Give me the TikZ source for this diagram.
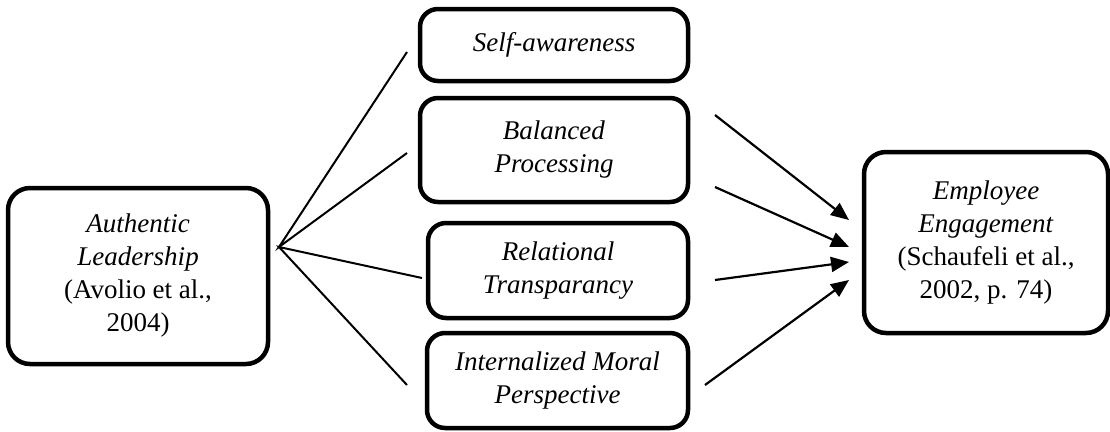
\documentclass[tikz,border=0pt]{standalone}
\usepackage{fontspec}
\setmainfont{Liberation Serif}
\usetikzlibrary{arrows.meta}
\begin{document}
\begin{tikzpicture}[x=1pt,y=-1pt,
  boxnode/.style={draw=black,line width=4.5pt,rounded corners=18pt,inner sep=0pt,align=center,
    font=\fontsize{27}{33}\selectfont},
  fanline/.style={line width=2pt},
  arrowline/.style={line width=2.2pt,-{Triangle[length=18pt,width=15pt]}}]
\useasboundingbox (0,0) rectangle (1110,431);
\node[boxnode,minimum width=260pt,minimum height=176pt,rounded corners=22pt] (al) at (138,276)
  {\textit{Authentic}\\\textit{Leadership}\\(Avolio et al.,\\2004)};
\node[boxnode,minimum width=268pt,minimum height=72pt] (sa) at (554,45) {\textit{Self-awareness}};
\node[boxnode,minimum width=268pt,minimum height=104pt] (bp) at (554,150) {\textit{Balanced}\\\textit{Processing}};
\node[boxnode,minimum width=260pt,minimum height=95pt] (rt) at (558,270.5) {\textit{Relational}\\\textit{Transparancy}};
\node[boxnode,minimum width=261pt,minimum height=95pt] (imp) at (557.5,380.5) {\textit{Internalized Moral}\\\textit{Perspective}};
\node[boxnode,minimum width=244pt,minimum height=181pt,rounded corners=22pt] (ee) at (986,242.5)
  {\textit{Employee}\\\textit{Engagement}\\(Schaufeli et al.,\\2002, p. 74)};
% fan
\coordinate (hub) at (279,247);
\coordinate (f1) at (407,52);
\coordinate (f2) at (407,153);
\coordinate (f3) at (422,278);
\coordinate (f4) at (407,385);
\draw[fanline] (f1) -- (hub) -- (f2);
\draw[fanline] (f3) -- (hub) -- (f4);
% arrows
\coordinate (a1) at (715,115);
\coordinate (a2) at (715,187);
\coordinate (a3) at (715,280);
\coordinate (a4) at (705,385);
\coordinate (t1) at (849,220);
\coordinate (t2) at (849,247);
\coordinate (t3) at (849,262);
\coordinate (t4) at (849,280);
\draw[arrowline] (a1) -- (t1);
\draw[arrowline] (a2) -- (t2);
\draw[arrowline] (a3) -- (t3);
\draw[arrowline] (a4) -- (t4);
\end{tikzpicture}
\end{document}
